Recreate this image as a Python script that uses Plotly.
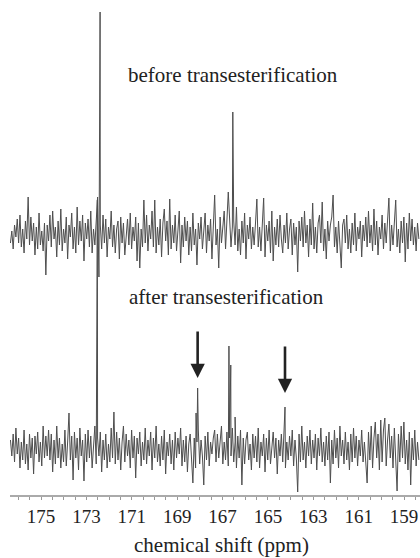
import numpy as np
import plotly.graph_objects as go

# sampling of the noise traces (ppm)
PPM_START = 176.35
PPM_STEP = 0.06

# "before" trace: baseline noise (arbitrary intensity units)
TOP_NOISE = [
    -8, 4, -14, 10, -2, 16, -8, 20, -12, 6, -18, 14, -4, 38, -10, 18, -6, 12, -20, 8,
    -14, 22, -10, 4, -16, 12, -40, 10, -6, 20, -12, 24, -4, 8, -22, 14, -10, 26, -16, 6,
    -8, 18, -24, 10, -2, 22, -14, 8, -18, 28, -10, 14, -6, 20, -26, 12, -4, 16, -12, 24,
    -18, 6, -10, 14, 38, -42, 10, -14, 20, -8, 16, -22, 8, -4, 24, -12, 10, -18, 6, 14,
    -24, 18, -8, 12, -20, 4, 16, -10, 22, -14, 8, -6, 18, -26, 12, -33, 6, -12, 35, -8,
    20, -16, 10, -4, 24, -12, 35, -18, 8, -10, 16, -22, 12, 26, -6, 14, -20, 36, -14, 10,
    -8, 20, -16, 4, 24, -28, 10, -12, 18, -6, 14, -20, 8, -16, 22, -10, 6, -30, 12, -4,
    18, -14, 8, 22, -18, 10, -6, 16, -24, 12, 40, -10, 6, -33, 18, -8, 12, 24, -14, 10,
    43, 16, -12, 8, 14, -10, 28, -16, 6, -20, 14, -8, 22, -24, 10, -4, 18, -14, 8, -10,
    12, 36, -12, 8, -16, 20, 37, -22, 10, -6, 14, -18, 24, -26, 8, -10, 16, -12, 20, -4,
    -18, 10, -8, 22, -14, 6, 16, -20, 12, -10, 8, -37, 14, -6, 18, -12, 24, -8, 10, -22,
    16, -10, 32, -14, 8, -18, 12, 20, -8, 33, -16, 6, -24, 14, -6, 10, 18, 40, -12, 8,
    -18, 14, -6, -33, 10, 16, -8, 20, -14, 6, -18, 12, -10, 22, -16, 8, -4, 14, -22, 10,
    -6, 18, -12, 24, -8, 10, -16, 26, -10, 14, -20, 8, -4, 20, -14, 12, -8, 22, 37, -16,
    10, -10, 20, 35, -12, 6, -18, 14, -8, 18, -27, 12, -14, 22, -6, 16, -10, 8, -16, 12,
    -4,
]
TOP_PEAK_PPM = [172.40, 166.55]
TOP_PEAK_H = [223, 123]

# "after" trace: baseline noise
BOT_NOISE = [
    10, -6, 16, -12, 22, -4, 12, -18, 8, -10, 20, -14, 6, -20, 16, -8, 12, -24, 14, -4,
    18, -12, 8, -16, 24, -8, 14, -6, 20, -10, 16, -22, 10, -14, 24, -8, 12, -18, 6, -12,
    20, -16, 8, 37, -10, 14, -30, 18, -8, 12, -20, 22, -6, 10, -31, 16, -12, 20, -8, 14,
    -18, 8, 24, -14, 12, -6, 18, -22, 10, -10, 16, -18, 6, -12, 22, -8, 38, -14, 18, -10,
    12, -20, 8, 24, -12, 16, -6, 10, -18, 20, -8, 14, -28, 12, -4, 18, -16, 8, -10, 22,
    -14, 10, -6, 18, -20, 12, -8, 24, -12, 6, -16, 14, -10, 20, -24, 8, -6, 16, -14, 10,
    -20, 18, -8, 12, -4, 22, -16, 10, -12, 14, -22, 6, 16, -10, -33, 12, -18, 8, 20, -14,
    10, -6, -35, 14, -10, 18, -16, 8, -4, 12, 20, -12, 16, -8, 10, 24, -14, 8, -10, 18,
    -16, 12, -6, 22, -12, 8, -18, 14, -8, 20, -35, 12, -14, 10, 18, -10, 6, -20, 16, -8,
    14, -12, 22, -18, 8, -6, 16, -22, 12, -10, 20, -14, 6, 18, -8, 12, -24, 10, -6, 16,
    -12, 22, -18, 8, -10, 14, -6, 20, -16, 10, -8, -42, 16, -12, 24, -10, 8, -18, 14, -6,
    20, -14, 10, -8, 16, -20, 12, -6, 22, -12, 8, -16, 14, -10, 18, -33, 10, -14, 20, -8,
    12, -18, 24, -6, 10, -14, 18, -10, 8, -20, 16, -12, 22, -8, 14, -16, 10, -6, 20, -12,
    8, -14, -33, 18, -10, 24, -18, 12, 28, -8, 16, -20, 30, -12, 20, 32, -16, 10, 26, -8,
    14, -18, 22, -10, -41, 16, -12, 24, -8, 28, -14, 10, -20, 18, -35, 12, -10, 20, -16, 8,
    -10,
]
BOT_PEAK_PPM = [172.52, 168.17, 168.10, 166.72, 166.64, 166.45, 164.25]
BOT_PEAK_H = [250, 37, 62, 104, 85, 33, 43]

TOP_OFFSET = 260
BOT_OFFSET = 45

ARROW_PPM = [168.10, 164.25]
ARROW_TIP = [117, 102]

TICK_VALS = [175, 173, 171, 169, 167, 165, 163, 161, 159]


def build(noise, peak_ppm, peak_h, offset):
    ppm = PPM_START - PPM_STEP * np.arange(len(noise))
    x = np.concatenate([ppm, np.array(peak_ppm)])
    y = np.concatenate([np.array(noise, float), np.array(peak_h, float)])
    order = np.argsort(-x)
    return x[order], y[order] + offset


xt, yt = build(TOP_NOISE, TOP_PEAK_PPM, TOP_PEAK_H, TOP_OFFSET)
xb, yb = build(BOT_NOISE, BOT_PEAK_PPM, BOT_PEAK_H, BOT_OFFSET)

fig = go.Figure()
fig.add_trace(go.Scatter(x=xt, y=yt, mode="lines",
                         line=dict(color="#4e4e4e", width=1), hoverinfo="skip"))
fig.add_trace(go.Scatter(x=xb, y=yb, mode="lines",
                         line=dict(color="#4e4e4e", width=1), hoverinfo="skip"))

serif = "Liberation Serif"
annotations = [
    dict(x=166.54, y=420, text="before transesterification", showarrow=False,
         font=dict(family=serif, size=21, color="#222")),
    dict(x=166.85, y=198, text="after transesterification", showarrow=False,
         font=dict(family=serif, size=21, color="#222")),
    dict(x=0.517, y=-50 / 495, xref="paper", yref="paper", text="chemical shift (ppm)",
         showarrow=False, yanchor="middle", font=dict(family=serif, size=21, color="#222")),
]
for px, tip in zip(ARROW_PPM, ARROW_TIP):
    annotations.append(dict(x=px, y=tip, ax=0, ay=-48, text="", showarrow=True,
                            arrowhead=2, arrowsize=1.1, arrowwidth=2.6,
                            arrowcolor="#222", standoff=0))

fig.update_layout(
    width=420, height=558,
    margin=dict(l=10, r=0, t=0, b=63),
    paper_bgcolor="white", plot_bgcolor="white",
    showlegend=False,
    annotations=annotations,
    xaxis=dict(range=[176.37, 158.30], showgrid=False, zeroline=False,
               showline=True, linecolor="#aaaaaa", linewidth=1.5,
               ticks="outside", ticklen=3, tickcolor="#999", tickwidth=1,
               tickvals=TICK_VALS, ticktext=[str(v) for v in TICK_VALS],
               tickfont=dict(family=serif, size=19, color="#222"),
               minor=dict(dtick=0.5, tick0=159, ticks="outside", ticklen=3,
                          tickcolor="#999", showgrid=False)),
    yaxis=dict(range=[0, 495], visible=False, showgrid=False, zeroline=False),
)

fig.write_html("out.html")
